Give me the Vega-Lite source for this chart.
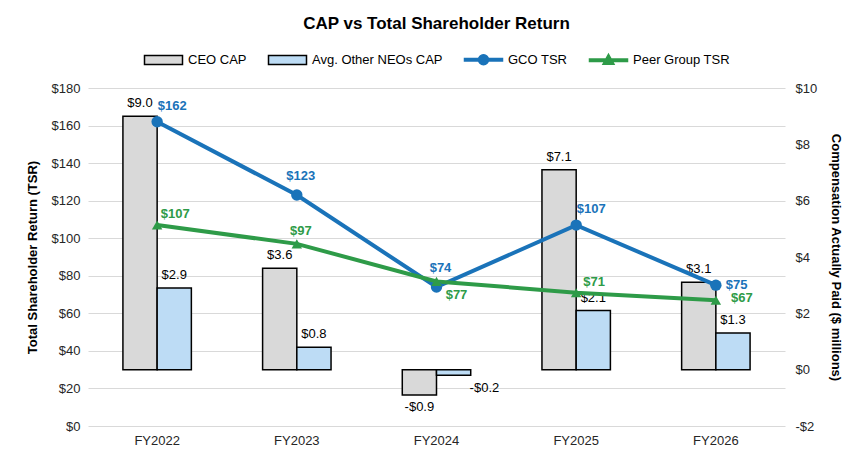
{
  "$schema": "https://vega.github.io/schema/vega-lite/v6.json",
  "width": 697,
  "height": 338,
  "autosize": "none",
  "padding": {"left": 88, "top": 88, "right": 61, "bottom": 31},
  "background": "white",
  "title": {"text": "CAP vs Total Shareholder Return", "fontSize": 17, "font": "Liberation Sans", "fontWeight": "bold", "color": "#000000", "offset": 20},
  "config": {
    "view": {"stroke": null},
    "font": "Liberation Sans",
    "axis": {"labelFont": "Liberation Sans", "labelFontSize": 13, "labelColor": "#262626", "titleFont": "Liberation Sans", "titleFontSize": 13, "titleColor": "#000000", "titleFontWeight": "bold", "domain": false, "ticks": false, "gridColor": "#d9d9d9", "gridWidth": 1},
    "legend": {"labelFont": "Liberation Sans", "labelFontSize": 13, "labelColor": "#000000", "layout": {"top": {"anchor": "middle"}}}
  },
  "datasets": {
    "cap": [
      {"year": "FY2022", "series": "CEO CAP", "value": 9.0},
      {"year": "FY2022", "series": "Avg. Other NEOs CAP", "value": 2.9},
      {"year": "FY2023", "series": "CEO CAP", "value": 3.6},
      {"year": "FY2023", "series": "Avg. Other NEOs CAP", "value": 0.8},
      {"year": "FY2024", "series": "CEO CAP", "value": -0.9},
      {"year": "FY2024", "series": "Avg. Other NEOs CAP", "value": -0.2},
      {"year": "FY2025", "series": "CEO CAP", "value": 7.1},
      {"year": "FY2025", "series": "Avg. Other NEOs CAP", "value": 2.1},
      {"year": "FY2026", "series": "CEO CAP", "value": 3.1},
      {"year": "FY2026", "series": "Avg. Other NEOs CAP", "value": 1.3}
    ],
    "tsr": [
      {"year": "FY2022", "series": "GCO TSR", "value": 162},
      {"year": "FY2023", "series": "GCO TSR", "value": 123},
      {"year": "FY2024", "series": "GCO TSR", "value": 74},
      {"year": "FY2025", "series": "GCO TSR", "value": 107},
      {"year": "FY2026", "series": "GCO TSR", "value": 75},
      {"year": "FY2022", "series": "Peer Group TSR", "value": 107},
      {"year": "FY2023", "series": "Peer Group TSR", "value": 97},
      {"year": "FY2024", "series": "Peer Group TSR", "value": 77},
      {"year": "FY2025", "series": "Peer Group TSR", "value": 71},
      {"year": "FY2026", "series": "Peer Group TSR", "value": 67}
    ]
  },
  "encoding": {
    "x": {"field": "year", "type": "nominal", "sort": null, "title": null,
      "scale": {"paddingInner": 0.51, "paddingOuter": 0.25},
      "axis": {"labelAngle": 0, "labelPadding": 8, "grid": false}}
  },
  "layer": [
    {
      "data": {"name": "cap"},
      "encoding": {
        "y": {"field": "value", "type": "quantitative", "scale": {"domain": [-2, 10], "nice": false, "zero": false},
          "axis": {"orient": "right", "values": [-2, 0, 2, 4, 6, 8, 10], "grid": false, "labelPadding": 10, "titlePadding": 12, "titleAngle": 90,
            "labelExpr": "datum.value < 0 ? '-$' + abs(datum.value) : '$' + datum.value"},
          "title": "Compensation Actually Paid ($ millions)"},
        "xOffset": {"field": "series", "type": "nominal", "sort": ["CEO CAP", "Avg. Other NEOs CAP"], "scale": {"paddingInner": 0, "paddingOuter": 0}}
      },
      "layer": [
        {
          "mark": {"type": "bar", "stroke": "#000000", "strokeWidth": 1.5},
          "encoding": {
            "fill": {"field": "series", "type": "nominal",
              "scale": {"domain": ["CEO CAP", "Avg. Other NEOs CAP", "GCO TSR", "Peer Group TSR"], "range": ["#d9d9d9", "#bddcf5", "#1a73b9", "#2e9b48"]},
              "legend": {"orient": "top", "direction": "horizontal", "title": null, "offset": 20, "symbolSize": 100, "labelOffset": 32, "columnPadding": 18,
                "symbolType": {"expr": "datum.value == 'GCO TSR' ? 'M-1,-0.25H6.6V0.25H-1Z M3.8,0 A1,1 0 1,1 1.8,0 A1,1 0 1,1 3.8,0Z' : (datum.value == 'Peer Group TSR' ? 'M-1,-0.25H6.6V0.25H-1Z M2.8,-1.2 L3.9,0.8 L1.7,0.8Z' : 'M-1,-0.9H6.6V0.9H-1Z')"},
                "symbolStrokeWidth": 1.5, "symbolOpacity": 1}
            }
          }
        },
        {
          "transform": [{"filter": "datum.value >= 0"}, {"calculate": "'$' + format(datum.value, '.1f')", "as": "label"}],
          "mark": {"type": "text", "baseline": "bottom", "dy": -6, "fontSize": 13, "color": "#000000"},
          "encoding": {"text": {"field": "label"}}
        },
        {
          "transform": [{"filter": "datum.value < 0 && datum.series == 'CEO CAP'"}, {"calculate": "'-$' + format(abs(datum.value), '.1f')", "as": "label"}],
          "mark": {"type": "text", "baseline": "top", "dy": 6, "fontSize": 13, "color": "#000000"},
          "encoding": {"text": {"field": "label"}}
        },
        {
          "transform": [{"filter": "datum.value < 0 && datum.series != 'CEO CAP'"}, {"calculate": "'-$' + format(abs(datum.value), '.1f')", "as": "label"}],
          "mark": {"type": "text", "baseline": "top", "align": "left", "dx": 16, "dy": 7, "fontSize": 13, "color": "#000000"},
          "encoding": {"text": {"field": "label"}}
        }
      ]
    },
    {
      "data": {"name": "tsr"},
      "encoding": {
        "y": {"field": "value", "type": "quantitative", "scale": {"domain": [0, 180], "nice": false},
          "axis": {"orient": "left", "values": [0, 20, 40, 60, 80, 100, 120, 140, 160, 180], "grid": true, "labelPadding": 8, "titlePadding": 12,
            "labelExpr": "'$' + datum.value"},
          "title": "Total Shareholder Return (TSR)"}
      },
      "layer": [
        {"mark": {"type": "line", "strokeWidth": 4},
          "encoding": {"stroke": {"field": "series", "type": "nominal",
            "scale": {"domain": ["CEO CAP", "Avg. Other NEOs CAP", "GCO TSR", "Peer Group TSR"], "range": ["#000000", "#000000", "#1a73b9", "#2e9b48"]},
            "legend": {"orient": "top", "direction": "horizontal", "title": null, "offset": 20, "symbolSize": 100, "labelOffset": 32, "columnPadding": 18,
                "symbolType": {"expr": "datum.value == 'GCO TSR' ? 'M-1,-0.25H6.6V0.25H-1Z M3.8,0 A1,1 0 1,1 1.8,0 A1,1 0 1,1 3.8,0Z' : (datum.value == 'Peer Group TSR' ? 'M-1,-0.25H6.6V0.25H-1Z M2.8,-1.2 L3.9,0.8 L1.7,0.8Z' : 'M-1,-0.9H6.6V0.9H-1Z')"},
                "symbolStrokeWidth": 1.5, "symbolOpacity": 1}}}},
        {"transform": [{"filter": "datum.series == 'GCO TSR'"}], "mark": {"type": "point", "shape": "circle", "filled": true, "opacity": 1, "size": 130, "color": "#1a73b9"}},
        {"transform": [{"filter": "datum.series == 'Peer Group TSR'"}], "mark": {"type": "point", "shape": "triangle-up", "filled": true, "opacity": 1, "size": 110, "color": "#2e9b48"}},
        {"transform": [{"filter": "datum.series == 'GCO TSR' && (datum.year == 'FY2022' || datum.year == 'FY2025')"}],
          "mark": {"type": "text", "fontWeight": "bold", "fontSize": 13, "dx": 15, "dy": -16, "color": "#1a73b9"},
          "encoding": {"text": {"field": "value", "format": "$.0f"}}},
        {"transform": [{"filter": "datum.series == 'GCO TSR' && (datum.year == 'FY2023' || datum.year == 'FY2024')"}],
          "mark": {"type": "text", "fontWeight": "bold", "fontSize": 13, "dx": 4, "dy": -19, "color": "#1a73b9"},
          "encoding": {"text": {"field": "value", "format": "$.0f"}}},
        {"transform": [{"filter": "datum.series == 'GCO TSR' && datum.year == 'FY2026'"}],
          "mark": {"type": "text", "fontWeight": "bold", "fontSize": 13, "align": "left", "dx": 10, "dy": 0, "color": "#1a73b9"},
          "encoding": {"text": {"field": "value", "format": "$.0f"}}},
        {"transform": [{"filter": "datum.series == 'Peer Group TSR' && (datum.year == 'FY2022' || datum.year == 'FY2025')"}],
          "mark": {"type": "text", "fontWeight": "bold", "fontSize": 13, "dx": 18, "dy": -11, "color": "#2e9b48"},
          "encoding": {"text": {"field": "value", "format": "$.0f"}}},
        {"transform": [{"filter": "datum.series == 'Peer Group TSR' && datum.year == 'FY2023'"}],
          "mark": {"type": "text", "fontWeight": "bold", "fontSize": 13, "dx": 4, "dy": -13, "color": "#2e9b48"},
          "encoding": {"text": {"field": "value", "format": "$.0f"}}},
        {"transform": [{"filter": "datum.series == 'Peer Group TSR' && datum.year == 'FY2024'"}],
          "mark": {"type": "text", "fontWeight": "bold", "fontSize": 13, "dx": 20, "dy": 14, "color": "#2e9b48"},
          "encoding": {"text": {"field": "value", "format": "$.0f"}}},
        {"transform": [{"filter": "datum.series == 'Peer Group TSR' && datum.year == 'FY2026'"}],
          "mark": {"type": "text", "fontWeight": "bold", "fontSize": 13, "dx": 26, "dy": -2, "color": "#2e9b48"},
          "encoding": {"text": {"field": "value", "format": "$.0f"}}}
      ]
    }
  ],
  "resolve": {"scale": {"y": "independent"}}
}
